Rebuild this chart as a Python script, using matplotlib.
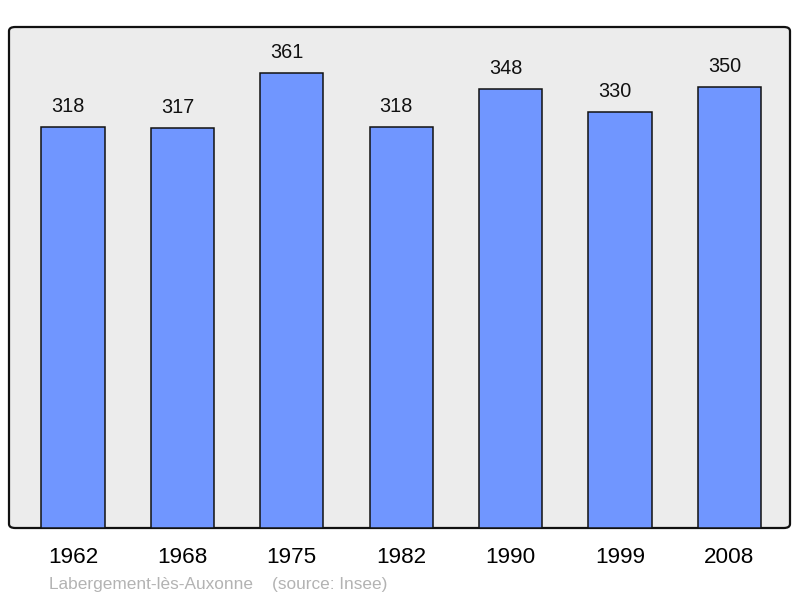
import matplotlib
matplotlib.use("Agg")
import matplotlib.pyplot as plt
from matplotlib.patches import FancyBboxPatch

years = ["1962", "1968", "1975", "1982", "1990", "1999", "2008"]
population = [318, 317, 361, 318, 348, 330, 350]
footer = "Labergement-lès-Auxonne    (source: Insee)"

plt.rcParams['font.family'] = ['Liberation Sans', 'DejaVu Sans']

fig = plt.figure(figsize=(8, 5.98), dpi=100)
ax = fig.add_axes([9/800, (598-528)/598, 781/800, 501/598])
ax.set_facecolor('none')

# rounded frame background
frame = FancyBboxPatch((0, 0), 1, 1,
                       boxstyle="round,pad=0,rounding_size=0.008",
                       transform=ax.transAxes, facecolor='#ececec',
                       edgecolor='#111111', linewidth=1.6, zorder=0,
                       clip_on=False)
ax.add_patch(frame)

x = list(range(len(years)))
ax.bar(x, population, width=0.578, color='#7096ff', edgecolor='#111111',
       linewidth=1.1, zorder=2)
for xi, v in zip(x, population):
    ax.annotate(str(v), (xi, v), xytext=(-3.6, 8), textcoords='offset points',
                ha='center', va='bottom', fontsize=14.3, color='#111111')

ax.set_xlim(-0.585, 6.555)
ax.set_ylim(0, 397.5)
for s in ax.spines.values():
    s.set_visible(False)
ax.set_yticks([])
ax.set_xticks(x)
ax.set_xticklabels(years, fontsize=16.2)
ax.tick_params(axis='x', length=0, pad=14)

fig.text(49/800, 1 - 584/598, footer, fontsize=12.4, color='#b3b3b3',
         ha='left', va='center')

fig.savefig('out.png', dpi=100)
